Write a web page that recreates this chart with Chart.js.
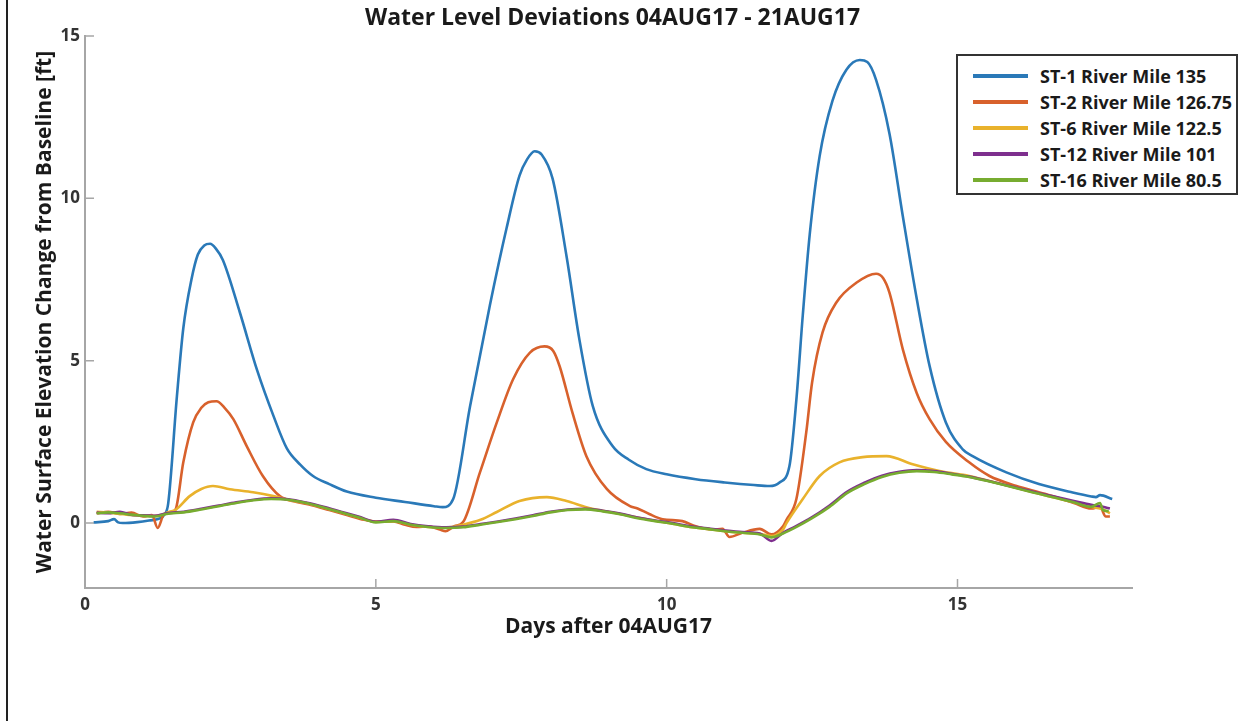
<!DOCTYPE html>
<html>
<head>
<meta charset="utf-8">
<script src="https://cdn.jsdelivr.net/npm/chart.js@4.4.1/dist/chart.umd.min.js"></script>
<style>
  body { margin: 0; background: #fff; }
  #wrap { position: relative; width: 1249px; height: 721px; }
  #frame { position: absolute; left: 6px; top: 0; width: 2px; height: 721px; background: #222; }
  #legend {
    position: absolute; left: 956px; top: 54px; width: 278px; height: 137px;
    border: 2px solid #333; background: #fff;
    font: bold 18px "Open Sans", sans-serif; color: #1a1a1a;
  }
  #legend .row { position: absolute; left: 0; height: 26px; line-height: 26px; white-space: nowrap; }
  #legend .swatch { position: absolute; left: 15px; top: 11px; width: 55px; height: 4px; }
  #legend .label { position: absolute; left: 82px; top: 0; }
</style>
</head>
<body>
<div id="wrap">
  <canvas id="chartCanvas" width="1249" height="721"></canvas>
  <div id="frame"></div>
  <div id="legend"></div>
</div>
<script>
// series names and colours
const seriesNames = ['ST-1 River Mile 135', 'ST-2 River Mile 126.75', 'ST-6 River Mile 122.5', 'ST-12 River Mile 101', 'ST-16 River Mile 80.5']
const seriesColors = ['#2a79b8', '#d8612c', '#e9b22c', '#7e2f8e', '#77ac30']
const chartTitle = 'Water Level Deviations 04AUG17 - 21AUG17'

// tick labels
const xTicks = [0, 5, 10, 15]
const yTicks = [0, 5, 10, 15]

// ST-1 (days after 04AUG17, ft)
const st1Days = [0.15, 0.4, 0.5, 0.57, 0.65, 0.9, 1.1, 1.3, 1.36, 1.43, 1.58, 1.69, 1.83, 1.94, 2.05, 2.15, 2.25, 2.37, 2.66, 2.96, 3.24, 3.47, 3.7, 3.92, 4.2, 4.5, 5.0, 5.5, 6.0, 6.15, 6.33, 6.62, 6.96, 7.25, 7.47, 7.6, 7.73, 7.85, 8.04, 8.28, 8.5, 8.73, 9.07, 9.35, 9.65, 10.0, 10.5, 11.0, 11.5, 11.77, 11.94, 12.11, 12.23, 12.34, 12.46, 12.63, 12.85, 13.09, 13.32, 13.45, 13.6, 13.83, 14.06, 14.3, 14.52, 14.8, 15.09, 15.26, 15.84, 16.4, 16.98, 17.3, 17.38, 17.45, 17.66]
const st1Ft = [0.02, 0.06, 0.12, 0.02, 0.0, 0.03, 0.08, 0.15, 0.25, 0.6, 3.9, 6.0, 7.5, 8.27, 8.55, 8.6, 8.45, 8.1, 6.5, 4.7, 3.3, 2.3, 1.8, 1.45, 1.2, 0.97, 0.78, 0.65, 0.52, 0.49, 0.74, 3.6, 6.7, 9.1, 10.7, 11.2, 11.45, 11.35, 10.6, 8.2, 5.65, 3.6, 2.37, 1.95, 1.66, 1.5, 1.35, 1.25, 1.17, 1.14, 1.25, 1.75, 3.8, 6.4, 8.9, 11.3, 13.0, 13.96, 14.26, 14.2, 13.65, 12.0, 9.45, 6.9, 4.84, 3.1, 2.27, 2.06, 1.56, 1.2, 0.94, 0.82, 0.8, 0.86, 0.74]

// ST-2
const st2Days = [0.2, 0.4, 0.6, 0.8, 1.0, 1.15, 1.25, 1.35, 1.5, 1.56, 1.69, 1.86, 2.0, 2.12, 2.26, 2.4, 2.55, 2.78, 3.06, 3.35, 3.64, 3.9, 4.2, 4.5, 4.8, 5.0, 5.3, 5.5, 5.7, 5.9, 6.1, 6.2, 6.35, 6.5, 6.79, 7.08, 7.36, 7.65, 7.9, 8.05, 8.16, 8.38, 8.62, 8.97, 9.36, 9.5, 9.7, 9.93, 10.27, 10.5, 10.8, 10.96, 11.08, 11.3, 11.6, 11.8, 12.0, 12.06, 12.23, 12.4, 12.5, 12.68, 12.92, 13.26, 13.6, 13.72, 13.83, 14.06, 14.3, 14.52, 14.8, 15.2, 15.55, 16.0, 16.5, 17.0, 17.3, 17.45, 17.55, 17.62]
const st2Ft = [0.3, 0.35, 0.28, 0.32, 0.2, 0.25, -0.15, 0.25, 0.35, 0.43, 1.87, 3.1, 3.55, 3.72, 3.75, 3.55, 3.2, 2.37, 1.44, 0.83, 0.65, 0.55, 0.4, 0.25, 0.1, 0.05, 0.05, -0.05, -0.12, -0.1, -0.2, -0.25, -0.1, 0.03, 1.56, 3.1, 4.43, 5.25, 5.44, 5.3, 4.83, 3.4, 2.06, 1.05, 0.53, 0.45, 0.28, 0.12, 0.06, -0.1, -0.2, -0.18, -0.43, -0.3, -0.18, -0.35, -0.1, 0.1, 0.74, 2.8, 4.33, 5.87, 6.8, 7.4, 7.68, 7.55, 7.1, 5.35, 4.0, 3.2, 2.5, 1.87, 1.45, 1.15, 0.9, 0.62, 0.45, 0.5, 0.2, 0.2]

// ST-6
const st6Days = [0.2, 0.5, 0.8, 1.1, 1.3, 1.45, 1.55, 1.8, 2.0, 2.2, 2.49, 2.89, 3.24, 3.52, 3.8, 4.1, 4.4, 4.7, 5.0, 5.3, 5.6, 5.9, 6.2, 6.5, 6.8, 7.08, 7.47, 7.94, 8.28, 8.62, 8.9, 9.2, 9.5, 9.8, 10.1, 10.4, 10.7, 11.0, 11.3, 11.6, 11.8, 12.0, 12.06, 12.34, 12.63, 12.97, 13.37, 13.78, 14.23, 14.69, 15.2, 15.5, 15.8, 16.1, 16.4, 16.7, 17.0, 17.3, 17.5, 17.62]
const st6Ft = [0.35, 0.3, 0.25, 0.22, 0.25, 0.35, 0.4, 0.83, 1.05, 1.14, 1.04, 0.95, 0.83, 0.7, 0.62, 0.48, 0.33, 0.18, 0.04, 0.06, -0.05, -0.12, -0.14, -0.05, 0.1, 0.34, 0.68, 0.8, 0.68, 0.49, 0.38, 0.28, 0.17, 0.07, -0.02, -0.12, -0.18, -0.25, -0.3, -0.33, -0.4, -0.2, 0.0, 0.74, 1.45, 1.87, 2.03, 2.06, 1.81, 1.6, 1.45, 1.32, 1.18, 1.04, 0.9, 0.77, 0.64, 0.5, 0.42, 0.3]

// ST-12
const st12Days = [0.2, 0.4, 0.6, 0.8, 1.0, 1.2, 1.4, 1.7, 2.0, 2.3, 2.6, 2.9, 3.2, 3.5, 3.8, 4.1, 4.4, 4.7, 5.0, 5.3, 5.6, 5.9, 6.2, 6.5, 6.8, 7.1, 7.4, 7.7, 8.0, 8.3, 8.6, 8.9, 9.2, 9.5, 9.8, 10.1, 10.4, 10.7, 11.0, 11.3, 11.6, 11.8, 12.0, 12.2, 12.5, 12.8, 13.1, 13.4, 13.7, 14.0, 14.3, 14.6, 14.9, 15.2, 15.5, 15.8, 16.1, 16.4, 16.7, 17.0, 17.3, 17.5, 17.62]
const st12Ft = [0.32, 0.3, 0.35, 0.25, 0.24, 0.22, 0.3, 0.35, 0.44, 0.54, 0.64, 0.72, 0.76, 0.73, 0.63, 0.5, 0.35, 0.2, 0.04, 0.1, -0.03, -0.1, -0.13, -0.11, -0.03, 0.05, 0.14, 0.24, 0.35, 0.42, 0.44, 0.38, 0.29, 0.17, 0.08, 0.0, -0.1, -0.16, -0.23, -0.28, -0.32, -0.55, -0.3, -0.12, 0.18, 0.54, 0.96, 1.24, 1.46, 1.58, 1.63, 1.6, 1.52, 1.43, 1.31, 1.18, 1.05, 0.92, 0.8, 0.68, 0.56, 0.5, 0.45]

// ST-16
const st16Days = [0.2, 0.4, 0.6, 0.8, 1.0, 1.2, 1.4, 1.7, 2.0, 2.3, 2.6, 2.9, 3.2, 3.5, 3.8, 4.1, 4.4, 4.7, 5.0, 5.3, 5.6, 5.9, 6.2, 6.5, 6.8, 7.1, 7.4, 7.7, 8.0, 8.3, 8.6, 8.9, 9.2, 9.5, 9.8, 10.1, 10.4, 10.7, 11.0, 11.3, 11.6, 11.8, 12.0, 12.2, 12.5, 12.8, 13.1, 13.4, 13.7, 14.0, 14.3, 14.6, 14.9, 15.2, 15.5, 15.8, 16.1, 16.4, 16.7, 17.0, 17.3, 17.45, 17.5, 17.6]
const st16Ft = [0.3, 0.33, 0.3, 0.26, 0.22, 0.2, 0.28, 0.33, 0.42, 0.52, 0.62, 0.7, 0.74, 0.72, 0.62, 0.48, 0.33, 0.18, 0.02, 0.06, -0.05, -0.12, -0.15, -0.13, -0.05, 0.03, 0.12, 0.22, 0.33, 0.4, 0.42, 0.36, 0.27, 0.15, 0.06, -0.02, -0.12, -0.18, -0.25, -0.3, -0.35, -0.44, -0.32, -0.15, 0.15, 0.5, 0.92, 1.2, 1.42, 1.55, 1.6, 1.57, 1.5, 1.42, 1.3, 1.17, 1.03, 0.9, 0.77, 0.64, 0.5, 0.62, 0.4, 0.37]

const seriesDays = [st1Days, st2Days, st6Days, st12Days, st16Days]
const seriesFt = [st1Ft, st2Ft, st6Ft, st12Ft, st16Ft]

const fontFamily = '"Open Sans", Lato, sans-serif'

// small inward tick marks on both axes
const innerTicks = {
    id: 'innerTicks',
    beforeDatasetsDraw(chart) {
        const {ctx, chartArea, scales} = chart
        ctx.save()
        ctx.strokeStyle = '#a6a6a6'
        ctx.lineWidth = 1.5
        ctx.beginPath()
        xTicks.forEach(v => {
            const px = scales.x.getPixelForValue(v)
            ctx.moveTo(px, chartArea.bottom)
            ctx.lineTo(px, chartArea.bottom - 9)
        })
        yTicks.forEach(v => {
            const py = scales.y.getPixelForValue(v)
            ctx.moveTo(chartArea.left, py)
            ctx.lineTo(chartArea.left + 9, py)
        })
        ctx.stroke()
        ctx.restore()
    }
}

// title centred over the plot area, not the whole canvas
const plotTitle = {
    id: 'plotTitle',
    afterDraw(chart) {
        const {ctx, chartArea} = chart
        ctx.save()
        ctx.font = 'bold 23px ' + fontFamily
        ctx.fillStyle = '#1a1a1a'
        ctx.textAlign = 'center'
        ctx.textBaseline = 'middle'
        ctx.fillText(chartTitle, (chartArea.left + chartArea.right) / 2 + 4, 18)
        ctx.restore()
    }
}

const datasets = seriesNames.map((name, i) => ({
    label: name,
    data: seriesDays[i].map((d, j) => ({x: d, y: seriesFt[i][j]})),
    borderColor: seriesColors[i],
    borderWidth: 2.6,
    pointRadius: 0,
    fill: false,
    cubicInterpolationMode: 'monotone'
}))
// ST-1 drawn last so it sits on top
datasets.reverse()

const chart = new Chart(document.getElementById('chartCanvas'), {
    type: 'line',
    data: { datasets },
    plugins: [innerTicks, plotTitle],
    options: {
        responsive: false,
        animation: false,
        devicePixelRatio: 1,
        layout: { padding: { left: 0, right: 117, top: 36, bottom: 0 } },
        plugins: {
            legend: { display: false },
            tooltip: { enabled: false },
            title: { display: false }
        },
        scales: {
            x: {
                type: 'linear',
                min: 0,
                max: 18,
                afterBuildTicks: s => { s.ticks = xTicks.map(v => ({value: v})) },
                afterFit: s => { s.height = 133 },
                grid: { display: false, drawTicks: false },
                border: { display: true, color: '#a6a6a6', width: 2 },
                ticks: { color: '#333', padding: 7, font: { family: fontFamily, size: 17, weight: 'bold' } },
                title: {
                    display: true,
                    text: 'Days after 04AUG17',
                    color: '#1a1a1a',
                    font: { family: fontFamily, size: 21, weight: 'bold', lineHeight: 1.2 },
                    padding: { top: 0, bottom: 81 }
                }
            },
            y: {
                type: 'linear',
                min: -2,
                max: 15,
                afterBuildTicks: s => { s.ticks = yTicks.map(v => ({value: v})) },
                afterFit: s => { s.width = 85 },
                grid: { display: false, drawTicks: false },
                border: { display: true, color: '#a6a6a6', width: 2 },
                ticks: { color: '#333', padding: 5, font: { family: fontFamily, size: 17, weight: 'bold' } },
                title: {
                    display: true,
                    text: 'Water Surface Elevation Change from Baseline [ft]',
                    color: '#1a1a1a',
                    font: { family: fontFamily, size: 21, weight: 'bold', lineHeight: 1.2 },
                    padding: { top: 32, bottom: 0 }
                }
            }
        }
    }
})

// legend box in the top right, built from the same names and colours
const legendDiv = document.getElementById('legend')
seriesNames.forEach((name, i) => {
    const row = document.createElement('div')
    row.className = 'row'
    row.style.top = (7 + i * 26) + 'px'
    row.innerHTML = '<span class="swatch" style="background:' + seriesColors[i] + '"></span><span class="label">' + name + '</span>'
    legendDiv.appendChild(row)
})
</script>
</body>
</html>
